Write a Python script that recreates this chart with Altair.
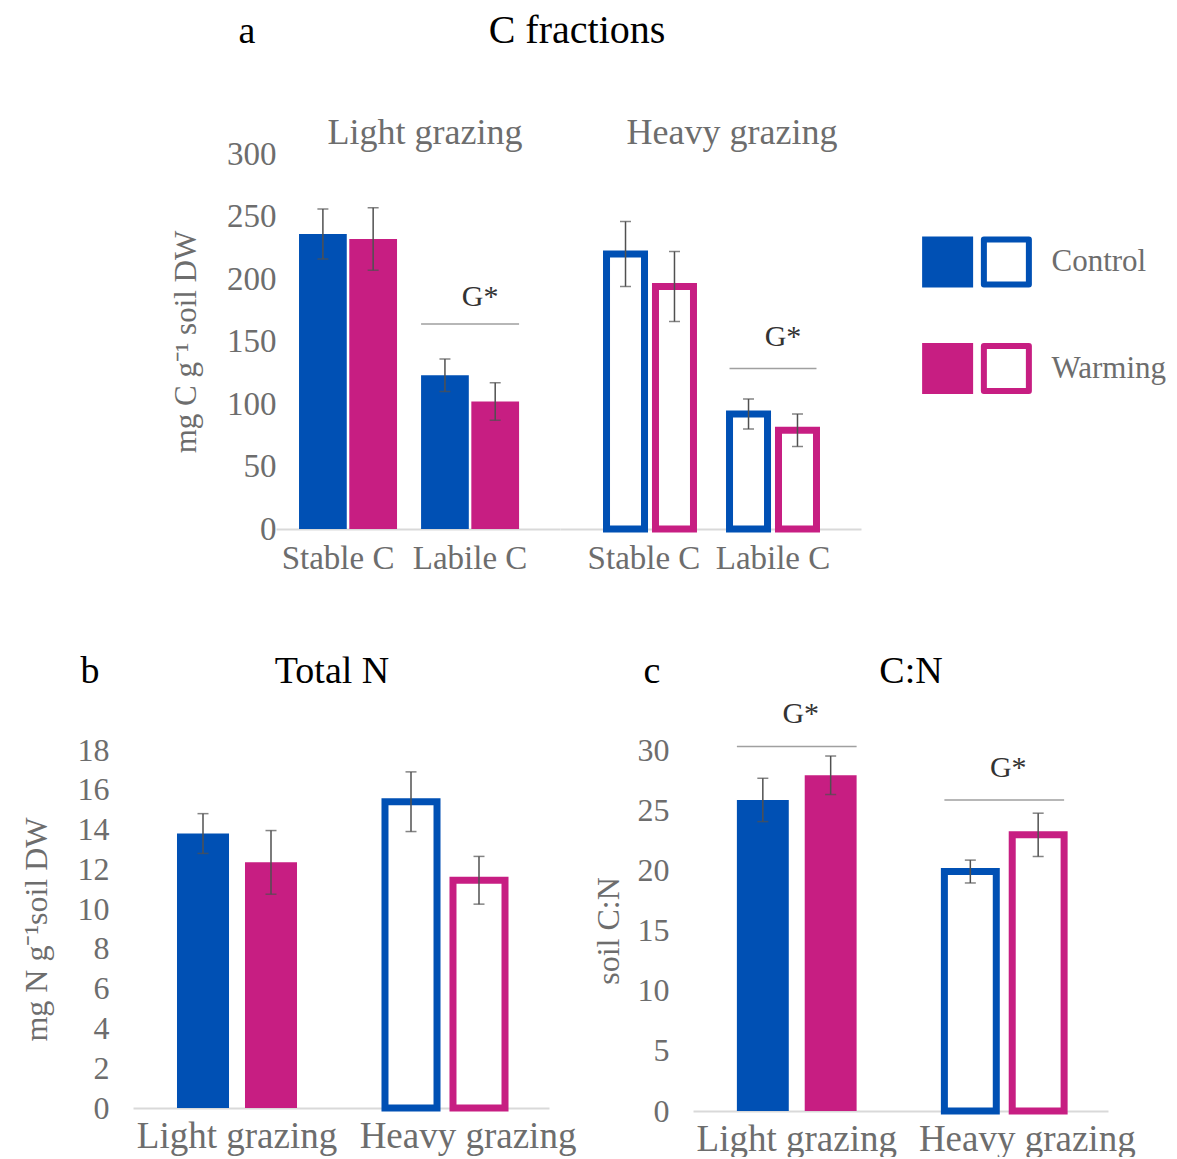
import altair as alt
import pandas as pd

FONT = "Liberation Serif"
BLUE = "#0050B4"
MAGENTA = "#C71E82"
TXT_GRAY = "#6d6d6d"
ERR_GRAY = "#505050"
BASE_GRAY = "#d9d9d9"
SIG_GRAY = "#a0a0a0"

TREATMENTS = ["Control", "Warming"]
FRACTIONS = ["Stable C", "Labile C"]
GRAZING = ["Light grazing", "Heavy grazing"]

# panel a  (order: Stable-Control, Stable-Warming, Labile-Control, Labile-Warming)
A_LIGHT_MEAN = [236, 232, 123, 102]
A_LIGHT_ERR = [20, 25, 13, 15]
A_HEAVY_MEAN = [220, 194, 92, 79]
A_HEAVY_ERR = [26, 28, 12, 13]
A_SIG_FRACTION = ["Labile C"]
A_LIGHT_SIG = [164]
A_HEAVY_SIG = [128.5]
A_TICKS = [0, 50, 100, 150, 200, 250, 300]

# panels b, c  (order: Light-Control, Light-Warming, Heavy-Control, Heavy-Warming)
B_MEAN = [13.8, 12.35, 15.4, 11.45]
B_ERR = [1.0, 1.6, 1.5, 1.2]
B_TICKS = [0, 2, 4, 6, 8, 10, 12, 14, 16, 18]
C_MEAN = [25.85, 27.9, 19.9, 22.95]
C_ERR = [1.8, 1.6, 0.95, 1.8]
C_SIG_LEVEL = [30.3, 25.85]
C_TICKS = [0, 5, 10, 15, 20, 25, 30]

LEGEND_STYLES = ["filled", "outline"]

COLOR = alt.Scale(domain=TREATMENTS, range=[BLUE, MAGENTA])


def frame(cat_name, cats, means, errs):
    rows = []
    k = 0
    for c in cats:
        for t in TREATMENTS:
            rows.append({cat_name: c, "treatment": t, "mean": means[k],
                         "lo": means[k] - errs[k], "hi": means[k] + errs[k]})
            k += 1
    return pd.DataFrame(rows)


def label(text, x, y, size, color):
    return alt.Chart(pd.DataFrame({"t": [text]})).mark_text(
        font=FONT, fontSize=size, color=color, align="center", baseline="alphabetic"
    ).encode(text="t:N", x=alt.value(x), y=alt.value(y))


def build_panel(df, X, XO, Y, filled_filter, outline_filter, extra):
    filled = alt.Chart(df).transform_filter(filled_filter).mark_bar(strokeWidth=0).encode(
        x=X(), xOffset=XO(), y=Y("mean:Q"),
        color=alt.Color("treatment:N", scale=COLOR, legend=None))
    outline = alt.Chart(df).transform_filter(outline_filter).mark_bar(fill="white", strokeWidth=7).encode(
        x=X(), xOffset=XO(), y=Y("mean:Q"),
        stroke=alt.Stroke("treatment:N", scale=COLOR, legend=None))
    rule = alt.Chart(df).mark_rule(color=ERR_GRAY, strokeWidth=1.5).encode(
        x=X(), xOffset=XO(), y=Y("lo:Q"), y2="hi:Q")
    caps = alt.Chart(df).transform_fold(["lo", "hi"], as_=["end", "val"]).mark_tick(
        color=ERR_GRAY, thickness=1.5, size=11).encode(x=X(), xOffset=XO(), y=Y("val:Q"))
    return alt.layer(filled, outline, rule, caps, *extra)


def sig_layers(sig_df, X, Y, dx, dy):
    line = alt.Chart(sig_df).mark_bar(color=SIG_GRAY, stroke=SIG_GRAY, strokeWidth=1.5).encode(
        x=X(), y=Y("level:Q"), y2="level:Q")
    txt = alt.Chart(sig_df).mark_text(text="G*", font=FONT, fontSize=30, color="#333333",
                                      dx=dx, dy=dy, baseline="middle").encode(x=X(), y=Y("level:Q"))
    return [line, txt]


def spacer(w, h):
    return alt.Chart(pd.DataFrame({"s": [0]})).mark_point(opacity=0).encode(
        x=alt.X("s:Q", axis=None, scale=alt.Scale(domain=[0, 1])),
        y=alt.Y("s:Q", axis=None, scale=alt.Scale(domain=[0, 1]))).properties(width=w, height=h)


def indep(c):
    return c.resolve_scale(xOffset="independent")


# ---------------- panel a ----------------
def x_axis_a(stable_shift):
    return alt.Axis(title=None, labelAngle=0, labelFont=FONT, labelFontSize=33, labelColor=TXT_GRAY,
                    labelPadding=13, labelLimit=0, ticks=False, domainColor=BASE_GRAY, domainWidth=2,
                    grid=False,
                    labelOffset={"condition": {"test": "datum.value == 'Stable C'", "value": stable_shift},
                                 "value": 0})


y_axis_a = alt.Axis(values=A_TICKS, title="mg C g⁻¹ soil DW", titleFont=FONT, titleFontSize=31,
                    titleFontWeight="normal", titleColor=TXT_GRAY, titlePadding=24,
                    labelFont=FONT, labelFontSize=33, labelColor=TXT_GRAY, labelPadding=0,
                    ticks=False, domain=False, grid=False)


def XA_light():
    return alt.X("fraction:N", scale=alt.Scale(domain=FRACTIONS, paddingInner=0.197,
                                                paddingOuter=0.262, align=0.36), axis=x_axis_a(-10))


def XA_heavy():
    return alt.X("fraction:N", scale=alt.Scale(domain=FRACTIONS, paddingInner=0.293,
                                                paddingOuter=0.37, align=0.511), axis=x_axis_a(-6))


def XO_light():
    return alt.XOffset("treatment:N", scale=alt.Scale(domain=TREATMENTS, paddingInner=0.05, paddingOuter=0))


def XO_heavy():
    return alt.XOffset("treatment:N", scale=alt.Scale(domain=TREATMENTS, paddingInner=0.224, paddingOuter=0))


def YA_light(f):
    return alt.Y(f, scale=alt.Scale(domain=[0, 300], nice=False), axis=y_axis_a)


def YA_heavy(f):
    return alt.Y(f, scale=alt.Scale(domain=[0, 300], nice=False), axis=None)


light_df = frame("fraction", FRACTIONS, A_LIGHT_MEAN, A_LIGHT_ERR)
heavy_df = frame("fraction", FRACTIONS, A_HEAVY_MEAN, A_HEAVY_ERR)

light = build_panel(
    light_df, XA_light, XO_light, YA_light, "true", "false",
    sig_layers(pd.DataFrame({"fraction": A_SIG_FRACTION, "level": A_LIGHT_SIG}), XA_light, YA_light, 10, -27)
    + [label("a", -29, -111, 38, "black"),
       label("Light grazing", 149, -10, 36, TXT_GRAY)]
).properties(width=284, height=375)

heavy = build_panel(
    heavy_df, XA_heavy, XO_heavy, YA_heavy, "false", "true",
    sig_layers(pd.DataFrame({"fraction": A_SIG_FRACTION, "level": A_HEAVY_SIG}), XA_heavy, YA_heavy, 10, -31)
    + [label("C fractions", 17, -111, 40, "black"),
       label("Heavy grazing", 172, -10, 36, TXT_GRAY)]
).properties(width=301, height=375)

inner_a = indep(alt.hconcat(light, heavy, spacing=0, bounds="flush"))

# legend
leg_df = pd.DataFrame({"style": [s for t in TREATMENTS for s in LEGEND_STYLES],
                       "treatment": [t for t in TREATMENTS for s in LEGEND_STYLES]})
leg_x = alt.X("style:N", scale=alt.Scale(type="point", domain=LEGEND_STYLES, padding=0.436), axis=None)
leg_y = alt.Y("treatment:N", scale=alt.Scale(type="band", domain=TREATMENTS, paddingInner=0.479,
                                             paddingOuter=1, align=0.377),
              axis=alt.Axis(orient="right", title=None, domain=False, ticks=False, grid=False,
                            labelFont=FONT, labelFontSize=31, labelColor=TXT_GRAY, labelPadding=19))
leg_filled = alt.Chart(leg_df).transform_filter("datum.style == 'filled'").mark_point(
    shape="square", filled=True, size=2601, opacity=1).encode(
    x=leg_x, y=leg_y, color=alt.Color("treatment:N", scale=COLOR, legend=None))
leg_outline = alt.Chart(leg_df).transform_filter("datum.style == 'outline'").mark_point(
    shape="square", filled=False, fill="white", size=2025, strokeWidth=6, opacity=1, strokeJoin="round").encode(
    x=leg_x, y=leg_y, stroke=alt.Stroke("treatment:N", scale=COLOR, legend=None))
legend = alt.layer(leg_filled, leg_outline).properties(width=110, height=375)

top_row = indep(alt.hconcat(spacer(37, 375), indep(alt.hconcat(inner_a, legend, spacing=61)), spacing=0))

# ---------------- panels b, c ----------------
heavy_offset = {"condition": {"test": "datum.value == 'Heavy grazing'", "value": 23}, "value": 0}
x_axis_bc = alt.Axis(title=None, labelAngle=0, labelFont=FONT, labelFontSize=37, labelColor=TXT_GRAY,
                     labelPadding=10, labelLimit=0, labelOffset=heavy_offset, ticks=False,
                     domainColor=BASE_GRAY, domainWidth=2, grid=False)


def XBC():
    return alt.X("grazing:N", scale=alt.Scale(domain=GRAZING, paddingInner=0.423, paddingOuter=0.2115,
                                               align=0.5), axis=x_axis_bc)


def XO_bc():
    return alt.XOffset("treatment:N", scale=alt.Scale(domain=TREATMENTS, paddingInner=0.235, paddingOuter=0))


def y_axis(title, ticks, tpad):
    return alt.Axis(values=ticks, title=title, titleFont=FONT, titleFontSize=32,
                    titleFontWeight="normal", titleColor=TXT_GRAY, titlePadding=tpad,
                    labelFont=FONT, labelFontSize=32, labelColor=TXT_GRAY, labelPadding=24,
                    ticks=False, domain=False, grid=False)


def YB(f):
    return alt.Y(f, scale=alt.Scale(domain=[0, 18], nice=False), axis=y_axis("mg N g⁻¹soil DW", B_TICKS, 24))


def YC(f):
    return alt.Y(f, scale=alt.Scale(domain=[0, 30], nice=False), axis=y_axis("soil C:N", C_TICKS, 12))


b_df = frame("grazing", GRAZING, B_MEAN, B_ERR)
c_df = frame("grazing", GRAZING, C_MEAN, C_ERR)
light_f = "datum.grazing == 'Light grazing'"
heavy_f = "datum.grazing == 'Heavy grazing'"

panel_b = build_panel(
    b_df, XBC, XO_bc, YB, light_f, heavy_f,
    [label("b", -43, -67, 38, "black"), label("Total N", 199, -67, 38, "black")]
).properties(width=416, height=358)

c_sig = pd.DataFrame({"grazing": GRAZING, "level": C_SIG_LEVEL})
panel_c = build_panel(
    c_df, XBC, XO_bc, YC, light_f, heavy_f,
    sig_layers(c_sig, XBC, YC, 4, -32)
    + [label("c", -41, -67, 38, "black"), label("C:N", 218, -67, 38, "black")]
).properties(width=415, height=361)

bottom_row = indep(alt.hconcat(panel_b, panel_c, spacing=16))

chart = indep(alt.vconcat(top_row, bottom_row, spacing=78)).configure_view(
    stroke=None).properties(padding={"left": 12, "top": 3, "right": 0, "bottom": 0})

chart.save("out.html", embed_options={"renderer": "svg", "actions": False})
